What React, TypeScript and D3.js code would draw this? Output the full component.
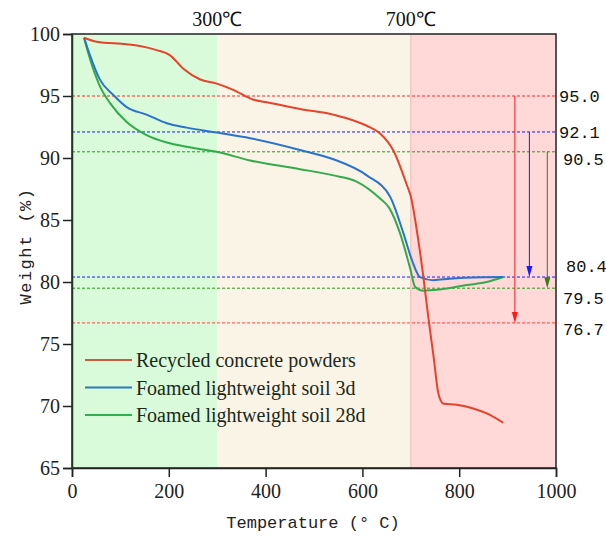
import { useRef, useEffect } from 'react';
import * as d3 from 'd3';

// temperature (°C) and weight (%)
const redT = [25, 51, 113, 140, 175, 202, 230, 264, 299, 333, 375, 402, 471, 540, 609, 636, 664, 692, 700, 715, 726, 736, 747, 757, 767, 795, 829, 857, 891];
const redW = [99.7, 99.38, 99.17, 99.03, 98.7, 98.3, 97.2, 96.35, 96.0, 95.5, 94.7, 94.5, 93.95, 93.5, 92.6, 92.0, 90.6, 87.8, 86.9, 83.5, 80.4, 77.2, 74.0, 71.0, 70.2, 70.1, 69.8, 69.4, 68.65];

const blueT = [25, 37, 58, 85, 113, 154, 196, 237, 299, 368, 471, 540, 609, 657, 685, 702, 719, 747, 781, 850, 891];
const blueW = [99.7, 98.3, 96.3, 95.1, 94.1, 93.5, 92.8, 92.45, 92.05, 91.6, 90.65, 89.9, 88.6, 86.9, 83.9, 81.8, 80.4, 80.15, 80.27, 80.38, 80.4];

const greenT = [25, 34, 58, 79, 113, 154, 196, 237, 299, 368, 471, 540, 588, 636, 655, 678, 698, 709, 726, 760, 815, 857, 891];
const greenW = [99.7, 98.4, 95.75, 94.4, 92.9, 91.85, 91.25, 90.9, 90.5, 89.8, 89.1, 88.6, 88.1, 86.75, 86.0, 83.9, 81.2, 79.6, 79.3, 79.4, 79.75, 80.0, 80.4];

const seriesNames = ['Recycled concrete powders', 'Foamed lightweight soil 3d', 'Foamed lightweight soil 28d'];
const seriesColors = ['#e4432c', '#2a73c8', '#33ab4c'];
const legendColors = ['#cc5a3c', '#2a7ac0', '#30b050'];

const regionEdges = [0, 300, 700, 1000];
const regionColors = ['#d9fbd9', '#faf4e7', '#ffd8d8'];
const regionLabels = ['300℃', '700℃'];

// reference levels and arrows
const levelValues = [95.0, 92.1, 90.5, 80.4, 79.5, 76.7];
const levelLabels = ['95.0', '92.1', '90.5', '80.4', '79.5', '76.7'];
const levelColors = ['#ff2a2a', '#1a1aff', '#2a9a1a', '#1a1aff', '#2a9a1a', '#ff4040'];
const levelLabelDx = [3, 3, 7, 10, 7, 7];
const levelLabelY = [95.0, 92.1, 89.9, 81.3, 78.7, 76.2];

const arrowT = [915, 945, 982];
const arrowFrom = [95.0, 92.1, 90.5];
const arrowTo = [76.7, 80.4, 79.5];
const arrowColors = ['#ff1a1a', '#1a1aff', '#3a7a1a'];

const xTicks = [0, 200, 400, 600, 800, 1000];
const yTicks = [65, 70, 75, 80, 85, 90, 95, 100];

export default function App() {
  const svgRef = useRef<SVGSVGElement>(null);
  const width = 606;
  const height = 536;

  useEffect(() => {
    if (!svgRef.current) return;
    const svg = d3.select(svgRef.current);
    svg.selectAll('*').remove();

    const x = d3.scaleLinear().domain([0, 1000]).range([72, 556]);
    const y = d3.scaleLinear().domain([65, 100]).range([468, 34]);

    // shaded temperature ranges
    regionColors.forEach((c, i) => {
      svg.append('rect')
        .attr('x', x(regionEdges[i]))
        .attr('y', y(100))
        .attr('width', x(regionEdges[i + 1]) - x(regionEdges[i]))
        .attr('height', y(65) - y(100))
        .attr('fill', c);
    });
    svg.append('line')
      .attr('x1', x(700)).attr('x2', x(700))
      .attr('y1', y(100)).attr('y2', y(65))
      .attr('stroke', '#f0b8b8').attr('stroke-width', 1);

    regionLabels.forEach((t, i) => {
      svg.append('text')
        .attr('x', x(regionEdges[i + 1]))
        .attr('y', 26)
        .attr('text-anchor', 'middle')
        .attr('font-family', 'Liberation Serif, serif')
        .attr('font-size', 20)
        .attr('fill', '#111')
        .text(t);
    });

    // dashed reference levels
    levelValues.forEach((v, i) => {
      svg.append('line')
        .attr('x1', x(0)).attr('x2', x(1000))
        .attr('y1', y(v)).attr('y2', y(v))
        .attr('stroke', levelColors[i])
        .attr('stroke-width', 1)
        .attr('stroke-dasharray', '3,2');
      svg.append('text')
        .attr('x', x(1000) + levelLabelDx[i])
        .attr('y', y(levelLabelY[i]))
        .attr('dy', '0.35em')
        .attr('font-family', 'Liberation Mono, monospace')
        .attr('font-size', 17)
        .attr('fill', '#111')
        .text(levelLabels[i]);
    });

    // curves
    const line = d3.line<[number, number]>()
      .x(d => x(d[0]))
      .y(d => y(d[1]))
      .curve(d3.curveMonotoneX);
    const series: [number[], number[]][] = [[redT, redW], [blueT, blueW], [greenT, greenW]];
    [2, 1, 0].forEach(i => {
      const [ts, ws] = series[i];
      svg.append('path')
        .datum(ts.map((t, j) => [t, ws[j]] as [number, number]))
        .attr('d', line)
        .attr('fill', 'none')
        .attr('stroke', seriesColors[i])
        .attr('stroke-width', 2);
    });

    // arrows
    arrowT.forEach((t, i) => {
      const ax = x(t);
      const y1 = y(arrowFrom[i]);
      const y2 = y(arrowTo[i]);
      svg.append('line')
        .attr('x1', ax).attr('x2', ax)
        .attr('y1', y1).attr('y2', y2 - 8)
        .attr('stroke', arrowColors[i])
        .attr('stroke-width', 1);
      svg.append('path')
        .attr('d', `M${ax - 3},${y2 - 11}L${ax + 3},${y2 - 11}L${ax},${y2}Z`)
        .attr('fill', arrowColors[i]);
    });

    // frame
    svg.append('rect')
      .attr('x', x(0)).attr('y', y(100))
      .attr('width', x(1000) - x(0))
      .attr('height', y(65) - y(100))
      .attr('fill', 'none')
      .attr('stroke', '#222')
      .attr('stroke-width', 1.5);

    // axes
    const xAxis = svg.append('g').attr('transform', `translate(0,${y(65)})`);
    xAxis.call(d3.axisBottom(x).tickValues(d3.range(0, 1001, 100)).tickSize(5).tickFormat(() => ''));
    xAxis.call(d3.axisBottom(x).tickValues(xTicks).tickSize(9).tickPadding(7)
      .tickFormat(d => String(d)));
    xAxis.selectAll('.domain').attr('stroke', '#222').attr('stroke-width', 1.5);
    xAxis.selectAll('line').attr('stroke', '#222').attr('stroke-width', 1.5);
    xAxis.selectAll('text')
      .attr('font-family', 'Liberation Serif, serif')
      .attr('font-size', 20)
      .attr('fill', '#222');

    const yAxis = svg.append('g').attr('transform', `translate(${x(0)},0)`);
    yAxis.call(d3.axisLeft(y).tickValues(d3.range(65, 100.1, 2.5)).tickSize(5).tickFormat(() => ''));
    yAxis.call(d3.axisLeft(y).tickValues(yTicks).tickSize(9).tickPadding(3)
      .tickFormat(d => String(d)));
    yAxis.selectAll('.domain').attr('stroke', '#1f3a1f').attr('stroke-width', 1.5);
    yAxis.selectAll('line').attr('stroke', '#222').attr('stroke-width', 1.5);
    yAxis.selectAll('text')
      .attr('font-family', 'Liberation Serif, serif')
      .attr('font-size', 20)
      .attr('fill', '#222');

    // axis titles
    svg.append('text')
      .attr('x', 313).attr('y', 528)
      .attr('text-anchor', 'middle')
      .attr('font-family', 'Liberation Mono, monospace')
      .attr('font-size', 17)
      .attr('fill', '#222')
      .text('Temperature (° C)');
    svg.append('text')
      .attr('transform', `translate(31,246) rotate(-90)`)
      .attr('text-anchor', 'middle')
      .attr('font-family', 'Liberation Mono, monospace')
      .attr('font-size', 17)
      .attr('letter-spacing', 1.5)
      .attr('fill', '#222')
      .text('Weight (%)');

    // legend
    seriesNames.forEach((name, i) => {
      const ly = 360 + i * 27.5;
      svg.append('line')
        .attr('x1', 85).attr('x2', 132)
        .attr('y1', ly).attr('y2', ly)
        .attr('stroke', legendColors[i])
        .attr('stroke-width', 2);
      svg.append('text')
        .attr('x', 136).attr('y', ly)
        .attr('dy', '0.35em')
        .attr('font-family', 'Liberation Serif, serif')
        .attr('font-size', 20)
        .attr('fill', '#1a2a1a')
        .text(name);
    });
  }, []);

  return (
    <svg ref={svgRef} width={width} height={height}
      style={{ position: 'absolute', left: 0, top: 0, display: 'block' }}></svg>
  );
}
